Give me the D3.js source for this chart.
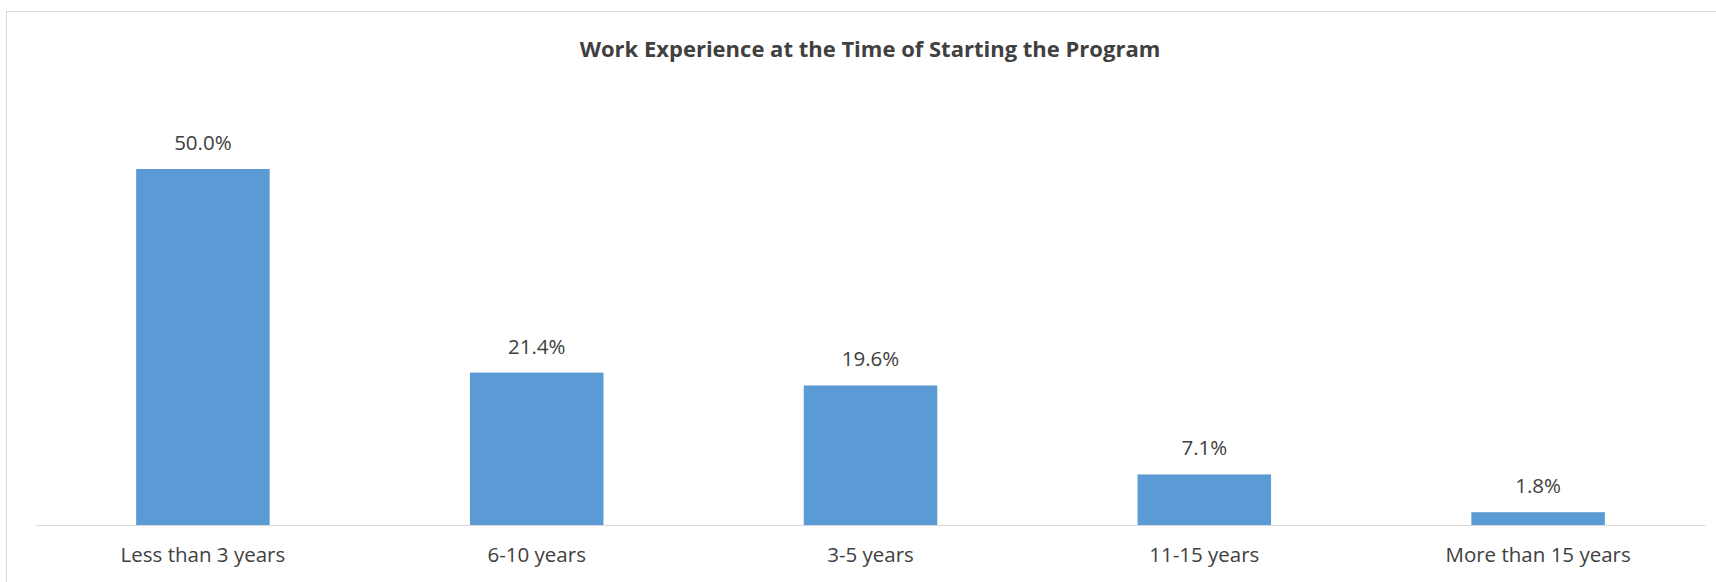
<!DOCTYPE html>
<html>
<head>
<meta charset="utf-8">
<script src="https://cdn.jsdelivr.net/npm/d3@7"></script>
<style>
  html, body { margin: 0; padding: 0; background: #fff; }
  svg { display: block; font-family: "Open Sans", sans-serif; }
</style>
</head>
<body>
<script>
const categories = ["Less than 3 years", "6-10 years", "3-5 years", "11-15 years", "More than 15 years"];
const values = [0.500, 0.214, 0.196, 0.071, 0.018];
const titleText = "Work Experience at the Time of Starting the Program";

const W = 1716, H = 582;
const svg = d3.select("body").append("svg").attr("width", W).attr("height", H);

// chart area border (extends beyond the visible frame on right/bottom)
svg.append("rect")
  .attr("x", 6.5).attr("y", 11.5)
  .attr("width", 1760).attr("height", 620)
  .attr("fill", "#fff").attr("stroke", "#d9d9d9").attr("stroke-width", 1);

const plot = { left: 36, right: 1705, top: 97.8, bottom: 525 };

const x = d3.scaleBand().domain(categories).range([plot.left, plot.right]).paddingInner(0.6).paddingOuter(0.3);
const y = d3.scaleLinear().domain([0, 0.6]).range([plot.bottom, plot.top]);

// title
svg.append("text")
  .attr("x", 870).attr("y", 57)
  .attr("text-anchor", "middle")
  .attr("font-weight", "bold")
  .attr("font-size", 22)
  .attr("fill", "#404040")
  .text(titleText);

// bars
svg.append("g").selectAll("rect")
  .data(categories)
  .join("rect")
  .attr("x", d => x(d))
  .attr("y", (d, i) => y(values[i]))
  .attr("width", x.bandwidth())
  .attr("height", (d, i) => y(0) - y(values[i]))
  .attr("fill", "#5b9bd5");

// data labels
const fmt = d3.format(".1%");
svg.append("g").selectAll("text")
  .data(categories)
  .join("text")
  .attr("x", d => x(d) + x.bandwidth() / 2)
  .attr("y", (d, i) => y(values[i]) - 19)
  .attr("text-anchor", "middle")
  .attr("font-size", 20.5)
  .attr("fill", "#404040")
  .text((d, i) => fmt(values[i]));

// x axis
const xAxis = d3.axisBottom(x).tickSize(0).tickPadding(0);
const gx = svg.append("g").attr("transform", `translate(0,${plot.bottom})`).call(xAxis);
gx.select(".domain").attr("stroke", "#d9d9d9").attr("stroke-width", 1.2);
gx.selectAll("text")
  .attr("dy", null)
  .attr("y", 37)
  .attr("font-family", "Open Sans, sans-serif")
  .attr("font-size", 20.5)
  .attr("fill", "#404040");
</script>
</body>
</html>
